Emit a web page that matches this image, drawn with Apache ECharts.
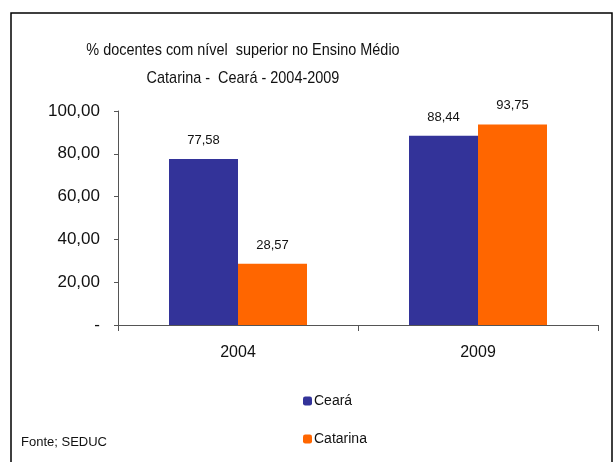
<!DOCTYPE html>
<html>
<head>
<meta charset="utf-8">
<script src="https://cdn.jsdelivr.net/npm/echarts@6/dist/echarts.min.js"></script>
<style>
  html, body { margin: 0; padding: 0; background: #fff; }
  #chart { width: 614px; height: 462px; }
</style>
</head>
<body>
<div id="chart"></div>
<script>
// % docentes com nível superior - Catarina x Ceará
const anos = ['2004', '2009']
const ceara = [77.58, 88.44]
const catarina = [28.57, 93.75]
const yTicks = [0, 20, 40, 60, 80, 100]

const fmt = v => v === 0 ? '-' : v.toFixed(2).replace('.', ',')
const font = 'Liberation Sans, Arial, sans-serif'

const chart = echarts.init(document.getElementById('chart'))

// titulo um pouco condensado, como no original
const titleLine = (text, y) => ({
  type: 'text',
  x: 243,
  y: y,
  scaleX: 0.85,
  style: {
    text: text,
    fontSize: 17,
    fill: '#111',
    fontFamily: font,
    align: 'center',
    verticalAlign: 'middle',
  },
  silent: true,
})

const options = {
  animation: false,
  textStyle: { fontFamily: font },
  grid: {
    left: 118,
    right: 16,
    top: 111,
    bottom: 137,
  },
  legend: {
    orient: 'vertical',
    left: 298,
    top: 389,
    itemWidth: 9,
    itemHeight: 9,
    itemGap: 24,
    data: ['Ceará', 'Catarina'],
    textStyle: { color: '#111', fontSize: 14, padding: [0, 0, 0, -3] },
  },
  xAxis: {
    type: 'category',
    data: anos,
    axisLine: { lineStyle: { color: '#555' } },
    axisTick: { show: true, length: 6, lineStyle: { color: '#555' } },
    axisLabel: { color: '#111', fontSize: 16, margin: 20 },
  },
  yAxis: {
    type: 'value',
    min: yTicks[0],
    max: yTicks[yTicks.length - 1],
    interval: 20,
    axisLine: { show: true, lineStyle: { color: '#555' } },
    axisTick: { show: true, length: 4, lineStyle: { color: '#555' } },
    splitLine: { show: false },
    axisLabel: {
      color: '#111',
      fontSize: 17,
      margin: 18,
      formatter: fmt,
    },
  },
  series: [
    {
      name: 'Ceará',
      type: 'bar',
      data: ceara,
      barWidth: '28.75%',
      barGap: '0%',
      itemStyle: { color: '#333399' },
      label: {
        show: true,
        position: 'top',
        distance: 12,
        color: '#111',
        fontSize: 13,
        formatter: p => fmt(p.value),
      },
    },
    {
      name: 'Catarina',
      type: 'bar',
      data: catarina,
      barWidth: '28.75%',
      itemStyle: { color: '#FF6600' },
      label: {
        show: true,
        position: 'top',
        distance: 12,
        color: '#111',
        fontSize: 13,
        formatter: p => fmt(p.value),
      },
    },
  ],
  graphic: [
    {
      type: 'rect',
      shape: { x: 11, y: 13, width: 601, height: 470 },
      style: { fill: 'none', stroke: '#000', lineWidth: 1.5 },
      silent: true,
    },
    titleLine('% docentes com nível  superior no Ensino Médio', 50),
    titleLine('Catarina -  Ceará - 2004-2009', 78),
    {
      type: 'text',
      left: 21,
      top: 436,
      style: { text: 'Fonte; SEDUC', fontSize: 13, fill: '#111', fontFamily: font },
    },
  ],
}
chart.setOption(options)
</script>
</body>
</html>
